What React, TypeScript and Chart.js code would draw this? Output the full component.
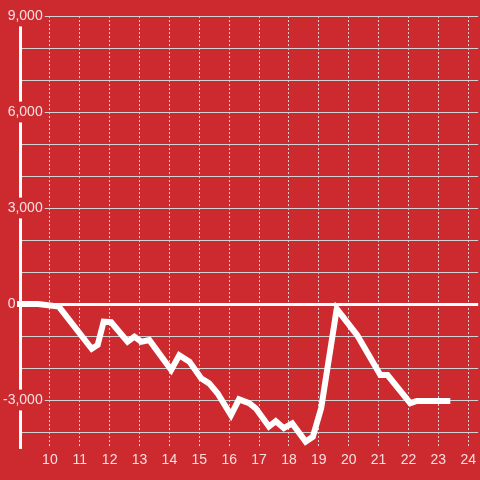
import React, { useEffect, useRef } from "react";
import { Chart, registerables } from "chart.js";

Chart.register(...registerables);

const hours: number[] = [8.9, 9.6, 10.3, 11.4, 11.6, 11.8, 12.05, 12.6, 12.83, 13.06, 13.33, 14.06, 14.33, 14.67, 15.06, 15.33, 15.61, 16.06, 16.33, 16.67, 16.89, 17.33, 17.56, 17.83, 18.11, 18.56, 18.8, 19.08, 19.6, 20.28, 21.06, 21.3, 22.06, 22.28, 23.4];
const values: number[] = [0, 0, -80, -1400, -1280, -550, -570, -1180, -1020, -1180, -1130, -2060, -1600, -1800, -2320, -2480, -2790, -3470, -2980, -3100, -3260, -3830, -3660, -3880, -3730, -4300, -4150, -3250, -150, -970, -2220, -2220, -3100, -3030, -3030];
const xTickValues: number[] = [9, 10, 11, 12, 13, 14, 15, 16, 17, 18, 19, 20, 21, 22, 23, 24];
const yTickValues: number[] = [9000, 8000, 7000, 6000, 5000, 4000, 3000, 2000, 1000, 0, -1000, -2000, -3000, -4000];
const yLabelled: number[] = [9000, 6000, 3000, 0, -3000];

const RED = "#cc2a2f";
const LABEL = "rgba(255,255,255,0.85)";
const GRID = "#d2d2d2";

export default function App() {
  const ref = useRef<HTMLCanvasElement | null>(null);
  useEffect(() => {
    if (!ref.current) return;
    const chart = new Chart(ref.current, {
      type: "line",
      data: {
        datasets: [
          {
            data: hours.map((h, i) => ({ x: h, y: values[i] })),
            borderColor: "#ffffff",
            borderWidth: 6,
            pointRadius: 0,
            tension: 0,
            clip: false as any,
          },
        ],
      },
      options: {
        animation: false,
        responsive: false,
        maintainAspectRatio: false,
        layout: { padding: { top: 16, left: 0, right: 0, bottom: 0 }, autoPadding: false } as any,
        plugins: { legend: { display: false }, tooltip: { enabled: false } },
        scales: {
          x: {
            type: "linear",
            min: 9,
            max: 24.3333,
            afterBuildTicks: (s: any) => {
              s.ticks = xTickValues.map((v) => ({ value: v }));
            },
            afterFit: (s: any) => {
              s.height = 32;
            },
            grid: {
              color: (c: any) => (c.tick && c.tick.value === 9 ? "rgba(0,0,0,0)" : GRID),
              lineWidth: 1,
              drawTicks: false,
            },
            border: { display: false, dash: [2, 2] },
            ticks: {
              color: LABEL,
              font: { family: "'Liberation Sans', Arial, sans-serif", size: 14 },
              padding: 4,
              maxRotation: 0,
              autoSkip: false,
              callback: (v: any) => (v === 9 ? "" : String(v)),
            },
          },
          y: {
            type: "linear",
            min: -4500,
            max: 9000,
            afterBuildTicks: (s: any) => {
              s.ticks = yTickValues.map((v) => ({ value: v }));
            },
            afterFit: (s: any) => {
              s.width = 20;
            },
            grid: {
              color: (c: any) => (c.tick && c.tick.value === 0 ? "#ffffff" : GRID),
              lineWidth: (c: any) => (c.tick && c.tick.value === 0 ? 3 : 1),
              drawTicks: false,
            },
            border: { display: true, color: "#ffffff", width: 3 },
            ticks: {
              color: LABEL,
              font: { family: "'Liberation Sans', Arial, sans-serif", size: 14 },
              mirror: true,
              crossAlign: "far",
              padding: -17,
              autoSkip: false,
              showLabelBackdrop: true,
              backdropPadding: 2,
              backdropColor: (c: any) =>
                c.tick && yLabelled.includes(c.tick.value) && c.tick.value !== 0 ? RED : "rgba(0,0,0,0)",
              callback: (v: any) => {
                if (!yLabelled.includes(v)) return "";
                if (v === 0) return "0       ";
                return v.toLocaleString("en-US");
              },
            } as any,
          },
        },
      },
    });
    return () => chart.destroy();
  }, []);
  return (
    <div style={{ position: "fixed", left: 0, top: 0, width: 480, height: 480, background: RED }}>
      <canvas ref={ref} width={480} height={480} style={{ display: "block" }} />
    </div>
  );
}
